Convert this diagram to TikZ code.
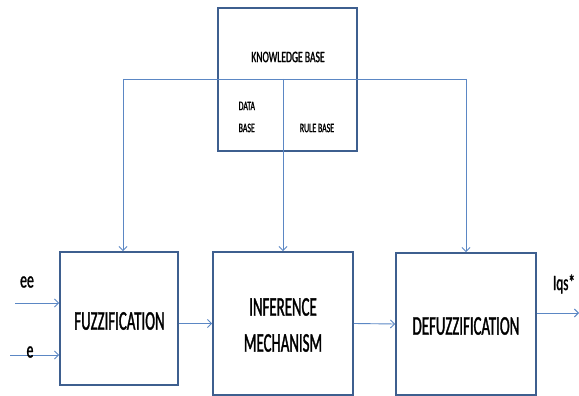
\documentclass[tikz,border=0pt]{standalone}
\usepackage{fontspec}
\setmainfont{Carlito}
\newfontfamily\condfont[FakeStretch=0.55,FakeBold=1.2]{Carlito}
\newfontfamily\smallcond[FakeStretch=0.6,FakeBold=1.2]{Carlito}
\usetikzlibrary{arrows.meta}
\definecolor{boxcol}{HTML}{3E5F8F}
\definecolor{linecol}{HTML}{5B87C4}
\tikzset{
  blk/.style={draw=boxcol, line width=1.8pt, fill=white, minimum width=#1, inner sep=0pt},
  conn/.style={draw=linecol, line width=0.9pt},
  arr/.style={conn, -{Straight Barb[length=4pt,width=8pt]}},
  lbl/.style={font=\condfont, text=black, inner sep=0pt}
}
\begin{document}
\begin{tikzpicture}[x=1pt,y=-1pt]
\useasboundingbox (0,0) rectangle (579,396);
% knowledge base
\node[blk=139pt, minimum height=143pt] (kb) at (287.5,79.5) {};
\coordinate (kl) at (123,79);
\coordinate (kr) at (466,79);
\coordinate (km) at (283,79);
% blocks
\node[blk=118pt, minimum height=133pt] (fuzz) at (119,318.5) {};
\node[blk=140pt, minimum height=143pt] (inf) at (283,323.5) {};
\node[blk=140pt, minimum height=142pt] (defz) at (466,324) {};
% connectors from knowledge base
\draw[conn] (kl) -- (kr);
\draw[arr] (kl) -- (kl |- fuzz.north);
\draw[arr] (km) -- (inf.north);
\draw[arr] (kr) -- (defz.north);
% inputs / outputs
\coordinate (in1) at (15,303);
\coordinate (in2) at (10,355);
\coordinate (out) at (579,313);
\draw[arr] (in1) -- (in1 -| fuzz.west);
\draw[arr] (in2) -- (in2 -| fuzz.west);
\draw[arr] (fuzz.east |- inf.west) -- (inf.west);
\draw[arr] (inf.east) -- (defz.west);
\draw[arr] (defz.east |- out) -- (out);
% texts
\node[lbl, font=\smallcond\fontsize{16}{16}\selectfont] (kbt) at (288,57) {KNOWLEDGE BASE};
\node[lbl, font=\smallcond\fontsize{13}{22}\selectfont, align=left, anchor=west] (dbt) at (238.5,117) {DATA\\BASE};
\node[lbl, font=\smallcond\fontsize{13}{13}\selectfont] (rbt) at (317,128) {RULE BASE};
\node[lbl, font=\condfont\fontsize{27}{27}\selectfont] (ft) at (119.5,321) {FUZZIFICATION};
\node[lbl, font=\condfont\fontsize{27}{36}\selectfont, align=center] (it) at (283,325) {INFERENCE\\MECHANISM};
\node[lbl, font=\condfont\fontsize{27}{27}\selectfont] (dt) at (466,326) {DEFUZZIFICATION};
\node[lbl, font=\smallcond\fontsize{23}{23}\selectfont] (eet) at (27,282) {ee};
\node[lbl, font=\smallcond\fontsize{23}{23}\selectfont] (et) at (30,352) {e};
\node[lbl, font=\smallcond\fontsize{22}{22}\selectfont] (lqs) at (564,284) {Iqs*};
\end{tikzpicture}
\end{document}
